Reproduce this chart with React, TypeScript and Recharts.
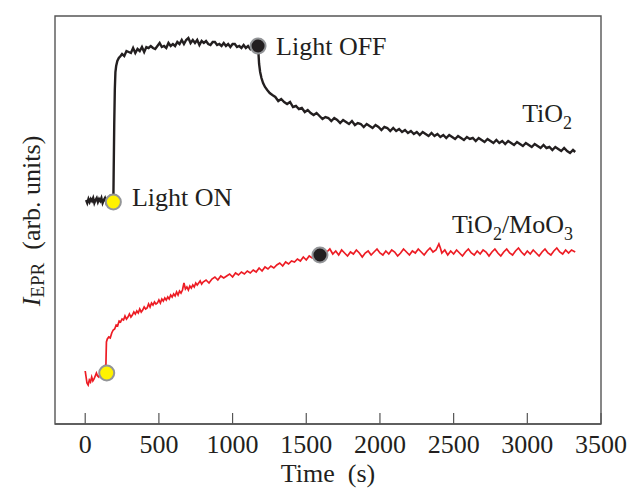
import {
  ComposedChart,
  Line,
  Scatter,
  XAxis,
  YAxis,
  ReferenceArea,
} from 'recharts';

type Pt = [number, number];

// time (s), EPR intensity (arb. units)
const tio2Dark: Pt[] = [
  [6, 224], [14, 221], [22, 225], [30, 222], [38, 225], [46, 223], [54, 226], [62, 221],
  [70, 224], [78, 226], [86, 222], [94, 225], [102, 223], [110, 226], [118, 221], [126, 224],
  [134, 226], [142, 222], [150, 225], [158, 223], [166, 226], [174, 222], [182, 224], [191, 223],
];

const tio2Rise: Pt[] = [
  [193, 250], [197, 300], [201, 335], [205, 352], [210, 358], [218, 363], [228, 366], [240, 368],
];

const tio2Light: Pt[] = [
  [250, 370], [265, 368], [280, 373], [295, 372], [310, 371], [325, 376], [340, 371], [355, 375],
  [370, 373], [385, 377], [400, 372], [415, 377], [430, 376], [445, 378], [460, 376], [475, 375],
  [490, 378], [505, 381], [520, 377], [535, 378], [550, 376], [565, 381], [580, 378], [595, 380],
  [610, 378], [625, 382], [640, 380], [655, 384], [670, 380], [685, 384], [700, 386], [715, 381],
  [730, 384], [745, 381], [760, 384], [775, 379], [790, 383], [805, 381], [820, 383], [835, 380],
  [850, 379], [865, 382], [880, 382], [895, 379], [910, 380], [925, 378], [940, 381], [955, 378],
  [970, 380], [985, 377], [1000, 380], [1015, 380], [1030, 377], [1045, 378], [1060, 376],
  [1075, 379], [1090, 376], [1105, 378], [1120, 375], [1135, 378], [1150, 377], [1165, 379],
  [1173, 378],
];

const tio2Decay: Pt[] = [
  [1176, 370], [1180, 360], [1187, 352], [1196, 346], [1207, 341], [1220, 337], [1235, 334],
  [1252, 331], [1270, 329], [1290, 327], [1310, 323], [1330, 325], [1350, 322], [1370, 320],
  [1390, 322], [1410, 317], [1430, 318], [1450, 315], [1470, 316], [1490, 312], [1510, 314],
  [1530, 311], [1550, 309], [1570, 311], [1590, 308], [1610, 305], [1630, 307], [1650, 306],
  [1670, 303], [1690, 306], [1710, 304], [1730, 301], [1750, 304], [1770, 302], [1790, 300],
  [1810, 303], [1830, 299], [1850, 301], [1870, 300], [1890, 297], [1910, 300], [1930, 298],
  [1950, 296], [1970, 299], [1990, 297], [2010, 294], [2030, 297], [2050, 296], [2070, 293],
  [2090, 296], [2110, 293], [2130, 295], [2150, 292], [2170, 294], [2190, 291], [2210, 293],
  [2230, 290], [2250, 292], [2270, 289], [2290, 292], [2310, 290], [2330, 288], [2350, 291],
  [2370, 288], [2390, 290], [2410, 287], [2430, 289], [2450, 286], [2470, 289], [2490, 287],
  [2510, 285], [2530, 288], [2550, 286], [2570, 284], [2590, 287], [2610, 285], [2630, 286],
  [2650, 283], [2670, 286], [2690, 284], [2710, 282], [2730, 285], [2750, 283], [2770, 281],
  [2790, 284], [2810, 281], [2830, 283], [2850, 280], [2870, 283], [2890, 281], [2910, 279],
  [2930, 282], [2950, 280], [2970, 278], [2990, 281], [3010, 279], [3030, 277], [3050, 280],
  [3070, 278], [3090, 276], [3110, 279], [3130, 276], [3150, 277], [3170, 274], [3190, 277],
  [3210, 275], [3230, 273], [3250, 276], [3270, 273], [3290, 271], [3310, 274], [3325, 272],
];

const moo3Dark: Pt[] = [
  [0, 53], [6, 47], [12, 41], [20, 39], [28, 44], [36, 42], [44, 47], [52, 43], [60, 45],
  [68, 48], [76, 51], [84, 48], [92, 47], [100, 50], [108, 53], [116, 56], [124, 54],
  [132, 57], [138, 52], [140, 55],
];

const moo3Rise: Pt[] = [
  [142, 70], [144, 82], [150, 85], [160, 87], [170, 86], [180, 91], [190, 94], [200, 95],
  [210, 99], [220, 98], [230, 103], [240, 102], [250, 105], [260, 104], [270, 108], [280, 105],
  [290, 107], [300, 110], [310, 107], [320, 109], [330, 112], [340, 110], [350, 113], [360, 111],
  [370, 115], [380, 112], [390, 114], [400, 117], [410, 115], [420, 116], [430, 120], [440, 117],
  [450, 121], [460, 119], [470, 122], [480, 120], [490, 121], [500, 124], [510, 121], [520, 125],
  [530, 123], [540, 126], [550, 124], [560, 127], [570, 125], [580, 129], [590, 127], [600, 130],
  [610, 128], [620, 132], [630, 129], [640, 133], [650, 131], [660, 134], [670, 141], [680, 135],
  [690, 137], [700, 134], [710, 138], [720, 136], [730, 139], [740, 137], [750, 141], [760, 139],
  [770, 141], [780, 143], [790, 140], [800, 142], [820, 144], [840, 141], [860, 145], [880, 147],
  [900, 144], [920, 148], [940, 146], [960, 148], [980, 150], [1000, 147], [1020, 151],
  [1040, 149], [1060, 152], [1080, 150], [1100, 153], [1120, 151], [1140, 154], [1160, 152],
  [1180, 156], [1200, 153], [1220, 157], [1240, 155], [1260, 158], [1280, 156], [1300, 159],
  [1320, 161], [1340, 158], [1360, 162], [1380, 160], [1400, 163], [1420, 162], [1440, 165],
  [1460, 163], [1480, 167], [1500, 164], [1520, 168], [1540, 166], [1560, 169], [1580, 167],
  [1593, 169],
];

const moo3After: Pt[] = [
  [1600, 171], [1620, 168], [1640, 172], [1660, 175], [1680, 170], [1700, 173], [1720, 169],
  [1740, 174], [1760, 171], [1780, 168], [1800, 172], [1820, 170], [1840, 174], [1860, 171],
  [1880, 167], [1900, 171], [1920, 173], [1940, 169], [1960, 172], [1980, 175], [2000, 171],
  [2020, 169], [2040, 173], [2060, 170], [2080, 174], [2100, 172], [2120, 168], [2140, 171],
  [2160, 175], [2180, 172], [2200, 169], [2220, 173], [2240, 171], [2260, 175], [2280, 172],
  [2300, 169], [2320, 173], [2340, 176], [2360, 172], [2380, 174], [2400, 180], [2410, 176],
  [2420, 171], [2440, 174], [2460, 169], [2480, 173], [2500, 170], [2520, 174], [2540, 171],
  [2560, 168], [2580, 172], [2600, 175], [2620, 171], [2640, 169], [2660, 173], [2680, 170],
  [2700, 174], [2720, 172], [2740, 168], [2760, 172], [2780, 175], [2800, 171], [2820, 168],
  [2840, 172], [2860, 175], [2880, 171], [2900, 169], [2920, 173], [2940, 176], [2960, 172],
  [2980, 169], [3000, 173], [3020, 170], [3040, 174], [3060, 171], [3080, 168], [3100, 172],
  [3120, 175], [3140, 171], [3160, 169], [3180, 173], [3200, 176], [3220, 172], [3240, 170],
  [3260, 174], [3280, 171], [3300, 174], [3325, 172],
];

const lightOnPoints: Pt[] = [[191, 222], [146, 51]];
const lightOffPoints: Pt[] = [[1173, 378], [1593, 169]];

const xTicks = [0, 500, 1000, 1500, 2000, 2500, 3000, 3500];

// text anchors (data coords) + text pieces; [text, isSubscript]
const notes = [
  { t: 1295, v: 369, anchor: 'start', parts: [['Light OFF', false]] },
  { t: 317, v: 218, anchor: 'start', parts: [['Light ON', false]] },
  { t: 3304, v: 302, anchor: 'end', parts: [['TiO', false], ['2', true]] },
  { t: 3310, v: 191, anchor: 'end', parts: [['TiO', false], ['2', true], ['/MoO', false], ['3', true]] },
];

const FONT = '"Liberation Serif", "Times New Roman", serif';
const AXIS = '#555';

const toRows = (a: Pt[]) => a.map(([t, v]) => ({ t, v }));

const tio2 = toRows([...tio2Dark, ...tio2Rise, ...tio2Light, ...tio2Decay]);
const moo3 = toRows([...moo3Dark, ...moo3Rise, ...moo3After]);
const onRows = toRows(lightOnPoints);
const offRows = toRows(lightOffPoints);
const noteRows = notes.map((n) => ({ ...n }));

function Marker({ cx, cy, fill }: any) {
  return <circle cx={cx} cy={cy} r={7.5} fill={fill} stroke="#939598" strokeWidth={2} />;
}

function Note({ cx, cy, payload }: any) {
  const parts = payload.parts as [string, boolean][];
  let prevSub = false;
  return (
    <text x={cx} y={cy} textAnchor={payload.anchor} fontFamily={FONT} fontSize={26} fill="#231f20">
      {parts.map(([s, sub], i) => {
        const dy = sub ? 7 : prevSub ? -7 : 0;
        prevSub = sub;
        return (
          <tspan key={i} dy={dy} fontSize={sub ? 18 : 26}>
            {s}
          </tspan>
        );
      })}
    </text>
  );
}

// y title drawn in an overlay svg, left of the frame
function YTitle() {
  const x = 40;
  const y = 221;
  return (
    <svg width={60} height={488} style={{ position: 'absolute', left: 0, top: 0, pointerEvents: 'none' }}>
      <text
        x={x}
        y={y}
        transform={`rotate(-90, ${x}, ${y})`}
        textAnchor="middle"
        fontFamily={FONT}
        fontSize={26}
        fill="#231f20"
        style={{ whiteSpace: 'pre' }}
      >
        <tspan fontStyle="italic">I</tspan>
        <tspan fontSize={19} dy={4}>EPR</tspan>
        <tspan dy={-4}>{'  (arb. units)'}</tspan>
      </text>
    </svg>
  );
}

export default function App() {
  return (
    <div style={{ position: 'absolute', left: 0, top: 0, width: 628, height: 488, background: '#fff' }}>
      <ComposedChart width={628} height={488} margin={{ top: 16, right: 27, bottom: 0, left: 55 }}>
        <XAxis
          type="number"
          dataKey="t"
          domain={[-205, 3500]}
          ticks={xTicks}
          allowDataOverflow
          height={64}
          axisLine={{ stroke: AXIS, strokeWidth: 1.4 }}
          tickLine={{ stroke: AXIS, strokeWidth: 1.2 }}
          tickSize={-11}
          tickMargin={22}
          tick={{ fontFamily: FONT, fontSize: 26, fill: '#231f20' }}
          label={{
            value: 'Time\u00a0\u00a0(s)',
            position: 'insideBottom',
            offset: 6,
            fontFamily: FONT,
            fontSize: 26,
            fill: '#231f20',
          }}
        />
        <YAxis type="number" domain={[0, 408]} width={0} tick={false} tickLine={false} axisLine={false} />
        <ReferenceArea x1={-205} x2={3500} y1={0} y2={408} fill="none" stroke={AXIS} strokeWidth={1.4} />
        <Line
          data={tio2}
          dataKey="v"
          type="linear"
          stroke="#231f20"
          strokeWidth={2.4}
          dot={false}
          isAnimationActive={false}
        />
        <Line
          data={moo3}
          dataKey="v"
          type="linear"
          stroke="#ed1c24"
          strokeWidth={1.7}
          dot={false}
          isAnimationActive={false}
        />
        <Scatter data={onRows} dataKey="v" shape={(p: any) => <Marker {...p} fill="#fff200" />} isAnimationActive={false} />
        <Scatter data={offRows} dataKey="v" shape={(p: any) => <Marker {...p} fill="#231f20" />} isAnimationActive={false} />
        <Scatter data={noteRows} dataKey="v" shape={(p: any) => <Note {...p} />} isAnimationActive={false} />
      </ComposedChart>
      <YTitle />
    </div>
  );
}
